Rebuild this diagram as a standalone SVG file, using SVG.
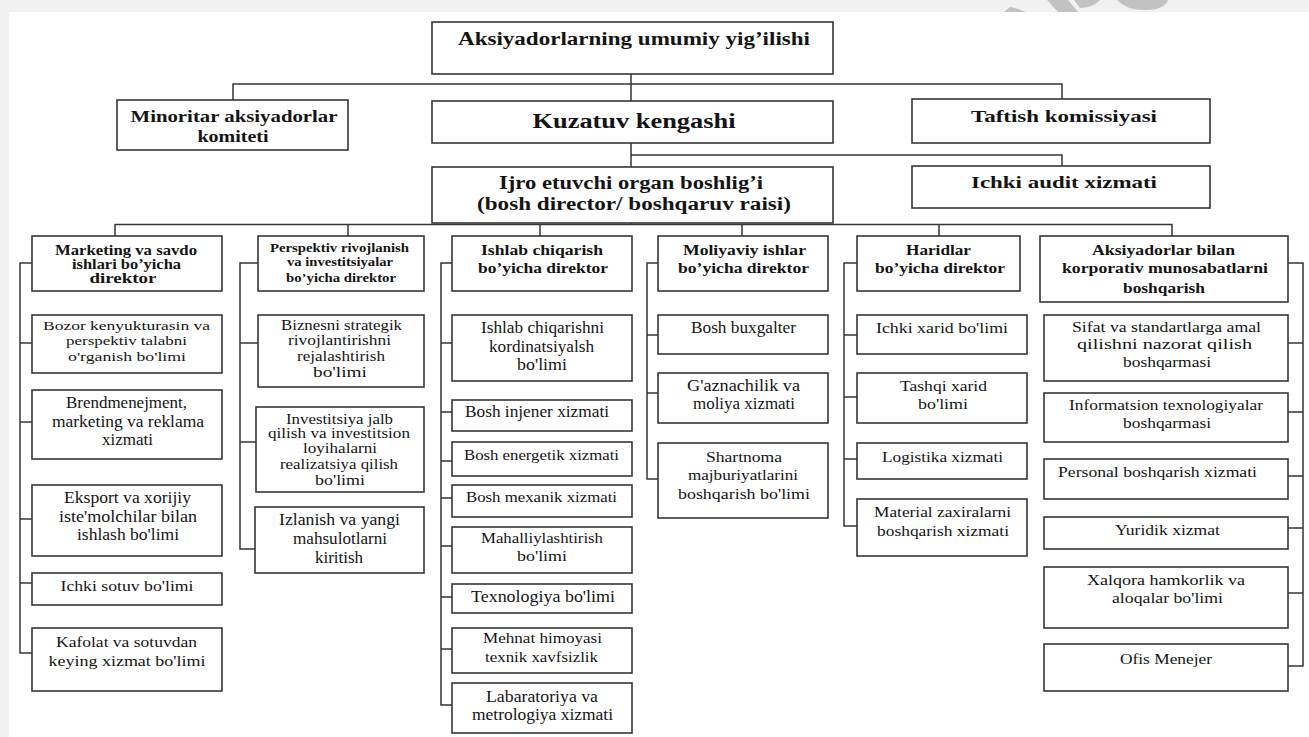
<svg xmlns="http://www.w3.org/2000/svg" width="1309" height="737" viewBox="0 0 1309 737">
  <style>
    .bx { fill: #ffffff; stroke: #363636; stroke-width: 1.6; }
    .c { fill: none; stroke: #363636; stroke-width: 1.5; }
    .t { font-family: "Liberation Serif", "Times New Roman", serif; fill: #141414; text-anchor: middle; }
    .b { font-weight: bold; }
    .wm { fill: #c2c2c2; }
  </style>

  <!-- page frame -->
  <rect x="0" y="0" width="1309" height="737" fill="#f1f1f1"/>
  <rect x="9" y="12" width="1300" height="725" fill="#ffffff"/>
  <g id="page-mark">
    <path class="wm" d="M1004,12 L1010,7 L1015,8 L1026,12 Z"/>
    <path class="wm" d="M1047,0 L1068,0 L1078,12 L1058,12 Z"/>
    <path class="wm" d="M1074,0 L1100,0 Q1092,8 1080,8 Z"/>
    <path class="wm" d="M1117,0 L1168,0 Q1165,10 1145,10 Q1126,10 1117,0 Z"/>
  </g>

  <!-- connectors -->
  <g id="connectors">
    <path class="c" d="M631,74 V101 M233,100 V84 H1062 V99"/>
    <path class="c" d="M631,143 V167 M631,155 H1062 V166"/>
    <path class="c" d="M631,223 V224.5 M115,236 V224.5 H1172 V236 M348,224.5 V236 M540,224.5 V236 M742,224.5 V236 M939,224.5 V236"/>
    <!-- marketing column -->
    <path class="c" d="M32,263 H20 V653 H32 M20,343 H32 M20,422 H32 M20,519 H32 M20,583 H32"/>
    <!-- development column -->
    <path class="c" d="M258,263 H240 V549 H255 M240,343 H258 M240,442 H256"/>
    <!-- production column -->
    <path class="c" d="M452,263 H441 V705 H452 M441,343 H452 M441,412 H452 M441,461 H452 M441,498 H452 M441,546 H452 M441,597 H452 M441,649 H452"/>
    <!-- finance column -->
    <path class="c" d="M658,263 H647 V479 H658 M647,335 H658 M647,393 H658"/>
    <!-- procurement column -->
    <path class="c" d="M857,263 H844 V526 H857 M844,335 H857 M844,397 H857 M844,459 H857"/>
    <!-- corporate relations column -->
    <path class="c" d="M1288,263 H1303 V666 H1288 M1303,343 H1288 M1303,412 H1288 M1303,476 H1288 M1303,528 H1288 M1303,593 H1288"/>
  </g>

  <!-- governing bodies -->
  <g id="n-general-meeting">
    <rect class="bx" x="432" y="22" width="401" height="52"/>
    <text class="t b" font-size="18.5" x="634" y="45" textLength="352" lengthAdjust="spacingAndGlyphs">Aksiyadorlarning umumiy yig’ilishi</text>
  </g>
  <g id="n-minority">
    <rect class="bx" x="117" y="100" width="231" height="50"/>
    <text class="t b" font-size="17" x="234" y="122" textLength="207" lengthAdjust="spacingAndGlyphs">Minoritar aksiyadorlar</text>
    <text class="t b" font-size="17" x="233" y="142" textLength="71" lengthAdjust="spacingAndGlyphs">komiteti</text>
  </g>
  <g id="n-supervisory">
    <rect class="bx" x="432" y="101" width="401" height="42"/>
    <text class="t b" font-size="20" x="634" y="128" textLength="203" lengthAdjust="spacingAndGlyphs">Kuzatuv kengashi</text>
  </g>
  <g id="n-audit-commission">
    <rect class="bx" x="912" y="99" width="298" height="44"/>
    <text class="t b" font-size="17" x="1064" y="122" textLength="186" lengthAdjust="spacingAndGlyphs">Taftish komissiyasi</text>
  </g>
  <g id="n-executive">
    <rect class="bx" x="432" y="167" width="401" height="56"/>
    <text class="t b" font-size="18" x="631" y="189" textLength="264" lengthAdjust="spacingAndGlyphs">Ijro etuvchi organ boshlig’i</text>
    <text class="t b" font-size="18" x="634" y="210" textLength="314" lengthAdjust="spacingAndGlyphs">(bosh director/ boshqaruv raisi)</text>
  </g>
  <g id="n-internal-audit">
    <rect class="bx" x="912" y="166" width="298" height="42"/>
    <text class="t b" font-size="17" x="1064" y="188" textLength="186" lengthAdjust="spacingAndGlyphs">Ichki audit xizmati</text>
  </g>

  <!-- marketing column -->
  <g id="n-marketing-dir">
    <rect class="bx" x="32" y="236" width="190" height="55"/>
    <text class="t b" font-size="14" x="126" y="255" textLength="142" lengthAdjust="spacingAndGlyphs">Marketing va savdo</text>
    <text class="t b" font-size="14" x="126.5" y="269" textLength="109" lengthAdjust="spacingAndGlyphs">ishlari bo’yicha</text>
    <text class="t b" font-size="14" x="123" y="283" textLength="67" lengthAdjust="spacingAndGlyphs">direktor</text>
  </g>
  <g id="n-market-research">
    <rect class="bx" x="32" y="315" width="190" height="58"/>
    <text class="t" font-size="13" x="126.5" y="330" textLength="167" lengthAdjust="spacingAndGlyphs">Bozor kenyukturasin va</text>
    <text class="t" font-size="13" x="126.5" y="345" textLength="121" lengthAdjust="spacingAndGlyphs">perspektiv talabni</text>
    <text class="t" font-size="13" x="127" y="361" textLength="118" lengthAdjust="spacingAndGlyphs">o'rganish bo'limi</text>
  </g>
  <g id="n-brand">
    <rect class="bx" x="32" y="390" width="190" height="69"/>
    <text class="t" font-size="16" x="126.5" y="408" textLength="121" lengthAdjust="spacingAndGlyphs">Brendmenejment,</text>
    <text class="t" font-size="16" x="128" y="427" textLength="152" lengthAdjust="spacingAndGlyphs">marketing va reklama</text>
    <text class="t" font-size="16" x="127.5" y="445" textLength="51" lengthAdjust="spacingAndGlyphs">xizmati</text>
  </g>
  <g id="n-export">
    <rect class="bx" x="32" y="485" width="190" height="71"/>
    <text class="t" font-size="16" x="127.5" y="503" textLength="127" lengthAdjust="spacingAndGlyphs">Eksport va xorijiy</text>
    <text class="t" font-size="16" x="128" y="522" textLength="138" lengthAdjust="spacingAndGlyphs">iste'molchilar bilan</text>
    <text class="t" font-size="16" x="128" y="540" textLength="102" lengthAdjust="spacingAndGlyphs">ishlash bo'limi</text>
  </g>
  <g id="n-domestic-sales">
    <rect class="bx" x="32" y="573" width="190" height="32"/>
    <text class="t" font-size="15" x="127" y="591" textLength="133" lengthAdjust="spacingAndGlyphs">Ichki sotuv bo'limi</text>
  </g>
  <g id="n-warranty">
    <rect class="bx" x="32" y="628" width="190" height="63"/>
    <text class="t" font-size="15" x="126.5" y="647" textLength="141" lengthAdjust="spacingAndGlyphs">Kafolat va sotuvdan</text>
    <text class="t" font-size="15" x="127" y="666" textLength="157" lengthAdjust="spacingAndGlyphs">keying xizmat bo'limi</text>
  </g>

  <!-- development column -->
  <g id="n-development-dir">
    <rect class="bx" x="258" y="236" width="166" height="55"/>
    <text class="t b" font-size="12.5" x="339.5" y="252" textLength="139" lengthAdjust="spacingAndGlyphs">Perspektiv rivojlanish</text>
    <text class="t b" font-size="12.5" x="340" y="266" textLength="106" lengthAdjust="spacingAndGlyphs">va investitsiyalar</text>
    <text class="t b" font-size="12.5" x="341" y="282" textLength="110" lengthAdjust="spacingAndGlyphs">bo’yicha direktor</text>
  </g>
  <g id="n-strategy">
    <rect class="bx" x="258" y="315" width="166" height="72"/>
    <text class="t" font-size="14" x="341.5" y="330" textLength="121" lengthAdjust="spacingAndGlyphs">Biznesni strategik</text>
    <text class="t" font-size="14" x="339.5" y="345" textLength="103" lengthAdjust="spacingAndGlyphs">rivojlantirishni</text>
    <text class="t" font-size="14" x="341" y="361" textLength="88" lengthAdjust="spacingAndGlyphs">rejalashtirish</text>
    <text class="t" font-size="14" x="340" y="377" textLength="54" lengthAdjust="spacingAndGlyphs">bo'limi</text>
  </g>
  <g id="n-investment">
    <rect class="bx" x="256" y="407" width="168" height="85"/>
    <text class="t" font-size="14" x="339.5" y="424" textLength="107" lengthAdjust="spacingAndGlyphs">Investitsiya jalb</text>
    <text class="t" font-size="14" x="339" y="438" textLength="142" lengthAdjust="spacingAndGlyphs">qilish va investitsion</text>
    <text class="t" font-size="14" x="340" y="453" textLength="74" lengthAdjust="spacingAndGlyphs">loyihalarni</text>
    <text class="t" font-size="14" x="339" y="469" textLength="118" lengthAdjust="spacingAndGlyphs">realizatsiya qilish</text>
    <text class="t" font-size="14" x="340" y="485" textLength="50" lengthAdjust="spacingAndGlyphs">bo'limi</text>
  </g>
  <g id="n-research">
    <rect class="bx" x="255" y="507" width="169" height="66"/>
    <text class="t" font-size="16" x="339.5" y="525" textLength="121" lengthAdjust="spacingAndGlyphs">Izlanish va yangi</text>
    <text class="t" font-size="16" x="340" y="544" textLength="94" lengthAdjust="spacingAndGlyphs">mahsulotlarni</text>
    <text class="t" font-size="16" x="339" y="563" textLength="48" lengthAdjust="spacingAndGlyphs">kiritish</text>
  </g>

  <!-- production column -->
  <g id="n-production-dir">
    <rect class="bx" x="452" y="236" width="180" height="55"/>
    <text class="t b" font-size="15.5" x="542" y="255" textLength="122" lengthAdjust="spacingAndGlyphs">Ishlab chiqarish</text>
    <text class="t b" font-size="15.5" x="543" y="273" textLength="130" lengthAdjust="spacingAndGlyphs">bo’yicha direktor</text>
  </g>
  <g id="n-coordination">
    <rect class="bx" x="452" y="315" width="180" height="66"/>
    <text class="t" font-size="16" x="542.5" y="333" textLength="123" lengthAdjust="spacingAndGlyphs">Ishlab chiqarishni</text>
    <text class="t" font-size="16" x="541.5" y="352" textLength="105" lengthAdjust="spacingAndGlyphs">kordinatsiyalsh</text>
    <text class="t" font-size="16" x="542" y="370" textLength="50" lengthAdjust="spacingAndGlyphs">bo'limi</text>
  </g>
  <g id="n-chief-engineer">
    <rect class="bx" x="452" y="400" width="180" height="31"/>
    <text class="t" font-size="16" x="537" y="417" textLength="144" lengthAdjust="spacingAndGlyphs">Bosh injener xizmati</text>
  </g>
  <g id="n-chief-power">
    <rect class="bx" x="452" y="442" width="180" height="34"/>
    <text class="t" font-size="14" x="541.5" y="460" textLength="155" lengthAdjust="spacingAndGlyphs">Bosh energetik xizmati</text>
  </g>
  <g id="n-chief-mechanic">
    <rect class="bx" x="452" y="485" width="180" height="32"/>
    <text class="t" font-size="14" x="541.5" y="502" textLength="151" lengthAdjust="spacingAndGlyphs">Bosh mexanik xizmati</text>
  </g>
  <g id="n-localization">
    <rect class="bx" x="452" y="527" width="180" height="46"/>
    <text class="t" font-size="14" x="542" y="543" textLength="122" lengthAdjust="spacingAndGlyphs">Mahalliylashtirish</text>
    <text class="t" font-size="14" x="542" y="561" textLength="50" lengthAdjust="spacingAndGlyphs">bo'limi</text>
  </g>
  <g id="n-technology">
    <rect class="bx" x="452" y="584" width="180" height="29"/>
    <text class="t" font-size="16" x="543" y="602" textLength="144" lengthAdjust="spacingAndGlyphs">Texnologiya bo'limi</text>
  </g>
  <g id="n-safety">
    <rect class="bx" x="452" y="628" width="180" height="45"/>
    <text class="t" font-size="14" x="542.5" y="643" textLength="119" lengthAdjust="spacingAndGlyphs">Mehnat himoyasi</text>
    <text class="t" font-size="14" x="541.5" y="662" textLength="113" lengthAdjust="spacingAndGlyphs">texnik xavfsizlik</text>
  </g>
  <g id="n-laboratory">
    <rect class="bx" x="452" y="683" width="180" height="50"/>
    <text class="t" font-size="16" x="542" y="702" textLength="112" lengthAdjust="spacingAndGlyphs">Labaratoriya va</text>
    <text class="t" font-size="16" x="542.5" y="720" textLength="141" lengthAdjust="spacingAndGlyphs">metrologiya xizmati</text>
  </g>

  <!-- finance column -->
  <g id="n-finance-dir">
    <rect class="bx" x="658" y="236" width="170" height="55"/>
    <text class="t b" font-size="15.5" x="744.5" y="255" textLength="123" lengthAdjust="spacingAndGlyphs">Moliyaviy ishlar</text>
    <text class="t b" font-size="15.5" x="743.5" y="273" textLength="131" lengthAdjust="spacingAndGlyphs">bo’yicha direktor</text>
  </g>
  <g id="n-chief-accountant">
    <rect class="bx" x="658" y="315" width="170" height="39"/>
    <text class="t" font-size="16" x="743.5" y="333" textLength="105" lengthAdjust="spacingAndGlyphs">Bosh buxgalter</text>
  </g>
  <g id="n-treasury">
    <rect class="bx" x="658" y="373" width="170" height="50"/>
    <text class="t" font-size="16" x="743.5" y="391" textLength="113" lengthAdjust="spacingAndGlyphs">G'aznachilik va</text>
    <text class="t" font-size="16" x="744" y="409" textLength="102" lengthAdjust="spacingAndGlyphs">moliya xizmati</text>
  </g>
  <g id="n-contracts">
    <rect class="bx" x="658" y="443" width="170" height="75"/>
    <text class="t" font-size="15" x="744" y="462" textLength="76" lengthAdjust="spacingAndGlyphs">Shartnoma</text>
    <text class="t" font-size="15" x="743" y="480" textLength="110" lengthAdjust="spacingAndGlyphs">majburiyatlarini</text>
    <text class="t" font-size="15" x="744" y="499" textLength="132" lengthAdjust="spacingAndGlyphs">boshqarish bo'limi</text>
  </g>

  <!-- procurement column -->
  <g id="n-procurement-dir">
    <rect class="bx" x="857" y="236" width="163" height="55"/>
    <text class="t b" font-size="15.5" x="938.5" y="255" textLength="65" lengthAdjust="spacingAndGlyphs">Haridlar</text>
    <text class="t b" font-size="15.5" x="940" y="273" textLength="130" lengthAdjust="spacingAndGlyphs">bo’yicha direktor</text>
  </g>
  <g id="n-internal-purchase">
    <rect class="bx" x="857" y="315" width="170" height="39"/>
    <text class="t" font-size="15" x="942" y="333" textLength="132" lengthAdjust="spacingAndGlyphs">Ichki xarid bo'limi</text>
  </g>
  <g id="n-external-purchase">
    <rect class="bx" x="857" y="373" width="170" height="50"/>
    <text class="t" font-size="15" x="943.5" y="391" textLength="87" lengthAdjust="spacingAndGlyphs">Tashqi xarid</text>
    <text class="t" font-size="15" x="943" y="409" textLength="50" lengthAdjust="spacingAndGlyphs">bo'limi</text>
  </g>
  <g id="n-logistics">
    <rect class="bx" x="857" y="443" width="170" height="36"/>
    <text class="t" font-size="15" x="942.5" y="462" textLength="121" lengthAdjust="spacingAndGlyphs">Logistika xizmati</text>
  </g>
  <g id="n-inventory">
    <rect class="bx" x="857" y="499" width="170" height="57"/>
    <text class="t" font-size="15" x="942.5" y="517" textLength="137" lengthAdjust="spacingAndGlyphs">Material zaxiralarni</text>
    <text class="t" font-size="15" x="943" y="536" textLength="132" lengthAdjust="spacingAndGlyphs">boshqarish xizmati</text>
  </g>

  <!-- corporate relations column -->
  <g id="n-corporate-dir">
    <rect class="bx" x="1040" y="236" width="248" height="66"/>
    <text class="t b" font-size="15.5" x="1163.5" y="255" textLength="143" lengthAdjust="spacingAndGlyphs">Aksiyadorlar bilan</text>
    <text class="t b" font-size="15.5" x="1165" y="273" textLength="206" lengthAdjust="spacingAndGlyphs">korporativ munosabatlarni</text>
    <text class="t b" font-size="15.5" x="1164" y="293" textLength="82" lengthAdjust="spacingAndGlyphs">boshqarish</text>
  </g>
  <g id="n-quality">
    <rect class="bx" x="1044" y="315" width="244" height="66"/>
    <text class="t" font-size="15" x="1166.5" y="332" textLength="189" lengthAdjust="spacingAndGlyphs">Sifat va standartlarga amal</text>
    <text class="t" font-size="15" x="1164.5" y="349" textLength="175" lengthAdjust="spacingAndGlyphs">qilishni nazorat qilish</text>
    <text class="t" font-size="15" x="1167" y="367" textLength="88" lengthAdjust="spacingAndGlyphs">boshqarmasi</text>
  </g>
  <g id="n-it">
    <rect class="bx" x="1044" y="393" width="244" height="49"/>
    <text class="t" font-size="15" x="1166" y="410" textLength="194" lengthAdjust="spacingAndGlyphs">Informatsion texnologiyalar</text>
    <text class="t" font-size="15" x="1167" y="428" textLength="88" lengthAdjust="spacingAndGlyphs">boshqarmasi</text>
  </g>
  <g id="n-personnel">
    <rect class="bx" x="1044" y="459" width="244" height="40"/>
    <text class="t" font-size="15" x="1157.5" y="477" textLength="199" lengthAdjust="spacingAndGlyphs">Personal boshqarish xizmati</text>
  </g>
  <g id="n-legal">
    <rect class="bx" x="1044" y="517" width="244" height="32"/>
    <text class="t" font-size="15" x="1167.5" y="535" textLength="105" lengthAdjust="spacingAndGlyphs">Yuridik xizmat</text>
  </g>
  <g id="n-international">
    <rect class="bx" x="1044" y="567" width="244" height="61"/>
    <text class="t" font-size="15" x="1166" y="585" textLength="158" lengthAdjust="spacingAndGlyphs">Xalqora hamkorlik va</text>
    <text class="t" font-size="15" x="1167.5" y="603" textLength="111" lengthAdjust="spacingAndGlyphs">aloqalar bo'limi</text>
  </g>
  <g id="n-office">
    <rect class="bx" x="1044" y="644" width="244" height="47"/>
    <text class="t" font-size="15" x="1166" y="664" textLength="92" lengthAdjust="spacingAndGlyphs">Ofis Menejer</text>
  </g>
</svg>
